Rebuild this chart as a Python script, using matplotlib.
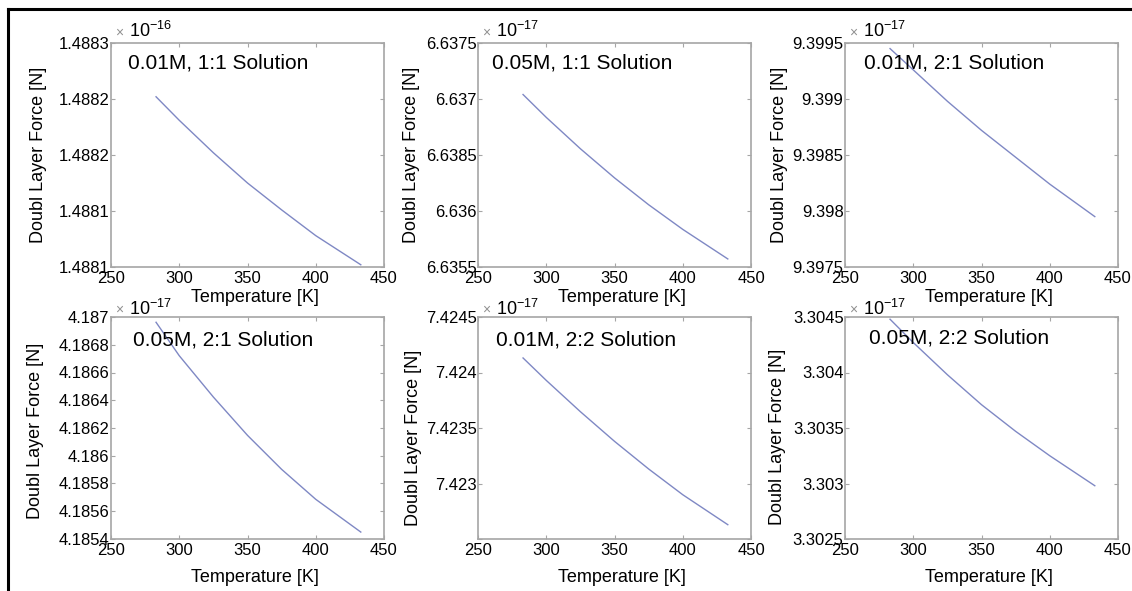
import matplotlib
matplotlib.use("Agg")
import matplotlib.pyplot as plt
from matplotlib.lines import Line2D

plt.rcParams["font.family"] = ["Liberation Sans", "DejaVu Sans"]
plt.rcParams["mathtext.fontset"] = "custom"
plt.rcParams["mathtext.rm"] = "Liberation Sans"
plt.rcParams["mathtext.it"] = "Liberation Sans"

# temperature [K] (shared by every panel)
temperature = [283, 300, 325, 350, 375, 400, 433]

# double layer force, mantissa of the shown x 10^n factor
titles = ["0.01M, 1:1 Solution", "0.05M, 1:1 Solution", "0.01M, 2:1 Solution",
          "0.05M, 2:1 Solution", "0.01M, 2:2 Solution", "0.05M, 2:2 Solution"]
exponents = [-16, -17, -17, -17, -17, -17]
force_1 = [1.488202, 1.488181, 1.488152, 1.488125, 1.488101, 1.488078, 1.488052]
force_2 = [6.637040, 6.636836, 6.636556, 6.636296, 6.636056, 6.635836, 6.635572]
force_3 = [9.399450, 9.399260, 9.398980, 9.398720, 9.398480, 9.398240, 9.397950]
force_4 = [4.186962, 4.186721, 4.186423, 4.186147, 4.185902, 4.185686, 4.185450]
force_5 = [7.424131, 7.423929, 7.423647, 7.423380, 7.423131, 7.422899, 7.422629]
force_6 = [3.304480, 3.304270, 3.303980, 3.303710, 3.303470, 3.303250, 3.302980]
forces = [force_1, force_2, force_3, force_4, force_5, force_6]

# y ticks and their printed labels (as shown in the original)
yticks = [
    [1.48805, 1.48810, 1.48815, 1.48820, 1.48825],
    [6.6355, 6.6360, 6.6365, 6.6370, 6.6375],
    [9.3975, 9.3980, 9.3985, 9.3990, 9.3995],
    [4.1854, 4.1856, 4.1858, 4.1860, 4.1862, 4.1864, 4.1866, 4.1868, 4.1870],
    [7.4225, 7.4230, 7.4235, 7.4240, 7.4245],
    [3.3025, 3.3030, 3.3035, 3.3040, 3.3045],
]
ytick_labels = [
    ["1.4881", "1.4881", "1.4882", "1.4882", "1.4883"],
    ["6.6355", "6.636", "6.6385", "6.637", "6.6375"],
    ["9.3975", "9.398", "9.3985", "9.399", "9.3995"],
    ["4.1854", "4.1856", "4.1858", "4.186", "4.1862", "4.1864", "4.1866", "4.1868", "4.187"],
    ["", "7.423", "7.4235", "7.424", "7.4245"],
    ["3.3025", "3.303", "3.3035", "3.304", "3.3045"],
]
xticks = [250, 300, 350, 400, 450]

W, H = 1132, 591
fig = plt.figure(figsize=(W / 100, H / 100), dpi=100)

# axes boxes in pixels (left, top, width, height)
lefts = [111, 478, 845]
tops = [43, 317]
heights = [224, 222]
width = 273
text_pos = [(0.062, 0.91), (0.051, 0.91), (0.07, 0.91),
            (0.08, 0.895), (0.066, 0.895), (0.088, 0.905)]
ylabel_x = [-73, -66, -66, -76, -65, -68]
ylabel_dy = [0, 0, 0, -3, -10, -9]
xlabel_dy = [30, 38]

grey = "#a6a6a6"
line_col = "#7f88c4"

for i in range(6):
    r, c = divmod(i, 3)
    x0, y0, h = lefts[c], tops[r], heights[r]
    ax = fig.add_axes([x0 / W, (H - y0 - h) / H, width / W, h / H])
    ax.plot(temperature, forces[i], color=line_col, lw=1.0)
    ax.set_xlim(250, 450)
    ax.set_ylim(yticks[i][0], yticks[i][-1])
    ax.set_xticks(xticks)
    ax.set_xticklabels([str(t) for t in xticks])
    ax.set_yticks(yticks[i])
    ax.set_yticklabels(ytick_labels[i])
    for s in ax.spines.values():
        s.set_color(grey)
        s.set_linewidth(1.2)
    ax.tick_params(direction="in", length=3, width=0.8, color=grey,
                   labelsize=12, top=True, right=True)
    ax.tick_params(axis="x", pad=3)
    ax.tick_params(axis="y", pad=1)

    ax.set_xlabel("Temperature [K]", fontsize=13)
    ax.xaxis.label.set_va("center")
    ax.xaxis.set_label_coords(0.5 + 7 / width, -xlabel_dy[r] / h)
    ax.set_ylabel("Doubl Layer Force [N]", fontsize=13)
    ax.yaxis.label.set_va("center")
    ax.yaxis.set_label_coords(ylabel_x[i] / width, 0.5 + ylabel_dy[i] / h)

    ax.text(text_pos[i][0], text_pos[i][1], titles[i], transform=ax.transAxes,
            fontsize=15, va="center", ha="left")

    # MATLAB style exponent factor above the axes
    up = 10 if r == 0 else 7
    base = 6 if r == 0 else 2
    ax.annotate("\u00d7", (0, 1), xycoords="axes fraction",
                xytext=(4, up), textcoords="offset pixels",
                fontsize=10, color="#909090", va="center", ha="left")
    ax.annotate(r"$10^{%d}$" % exponents[i], (0, 1), xycoords="axes fraction",
                xytext=(18, base), textcoords="offset pixels",
                fontsize=13, va="baseline", ha="left")

# frame lines at top and left of the picture
fig.add_artist(Line2D([8 / W, 1.0], [1 - 9 / H, 1 - 9 / H], color="black", lw=2.2))
fig.add_artist(Line2D([8 / W, 8 / W], [0.0, 1 - 9 / H], color="black", lw=2.2))

fig.savefig("out.png", dpi=100)
